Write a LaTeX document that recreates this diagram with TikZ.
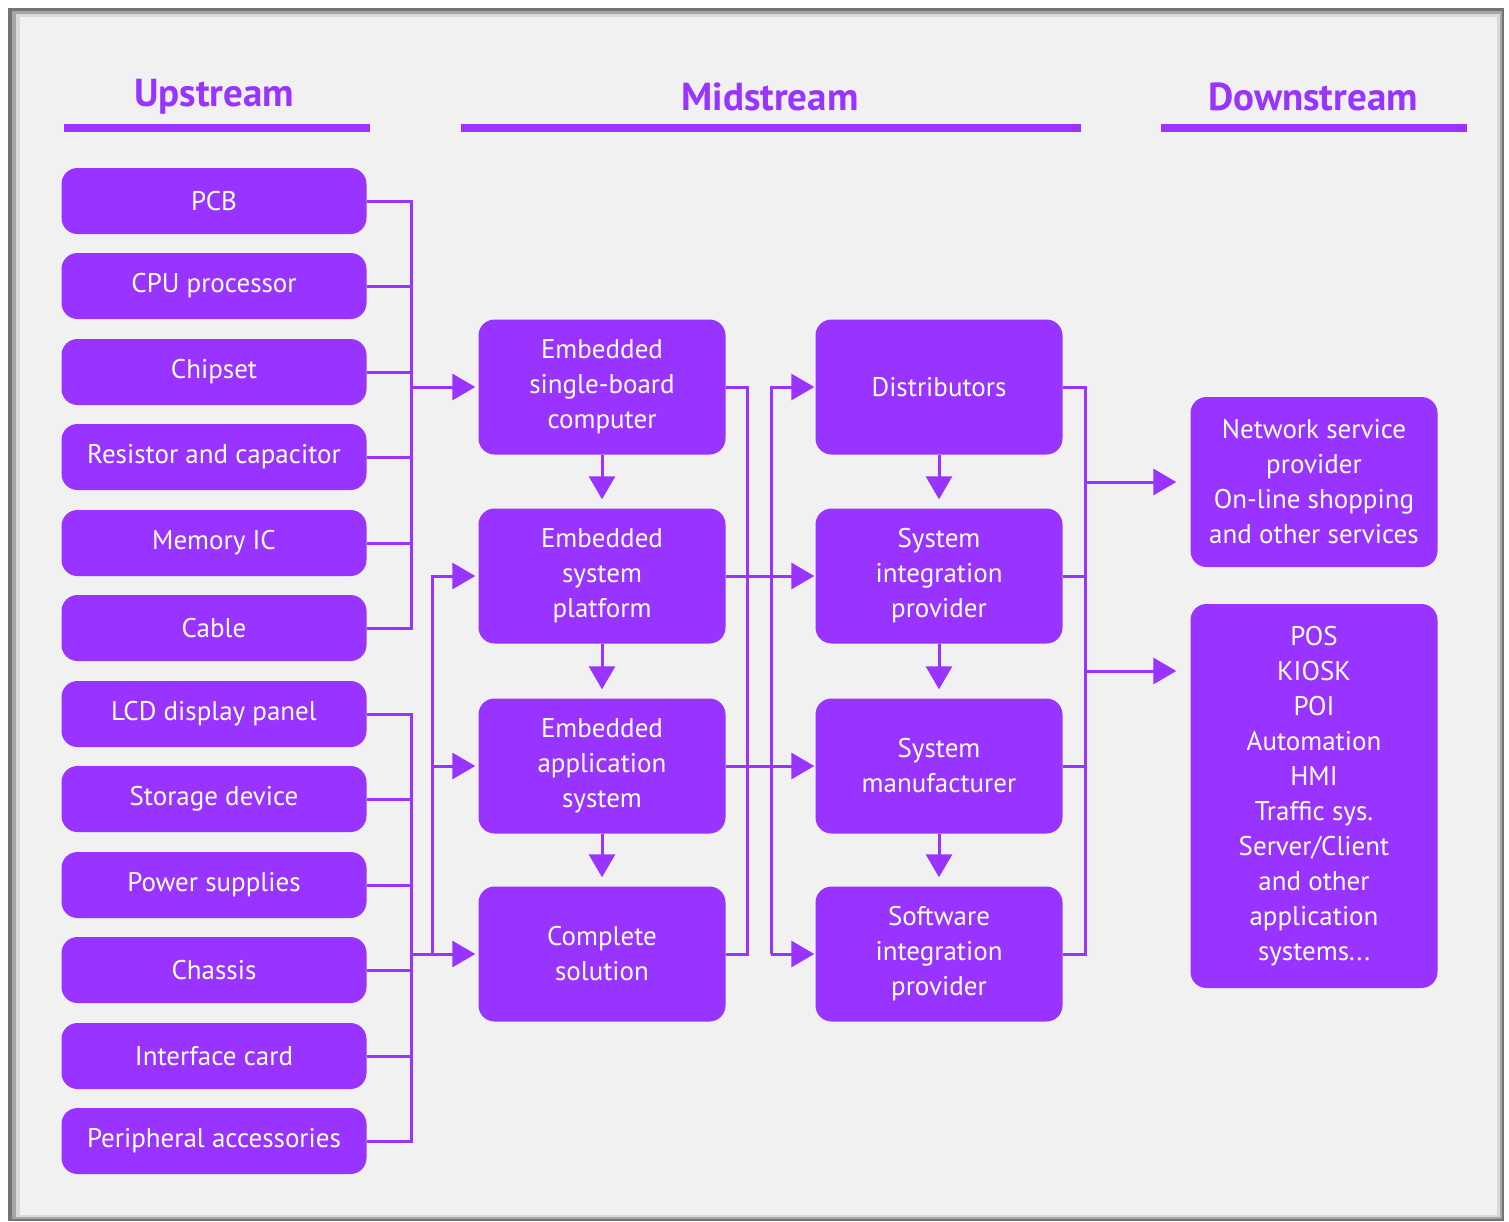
\documentclass[tikz,border=0pt]{standalone}
\usepackage{fontspec}
\setmainfont{PT Sans}
\usetikzlibrary{arrows.meta}
\definecolor{violet}{HTML}{9933FF}
\definecolor{panel}{HTML}{F1F1F1}

\tikzset{
	box/.style={fill=violet, rounded corners=16pt, text=white, align=center, inner sep=0pt,
		font=\fontsize{27}{35}\selectfont},
	upbox/.style={box, minimum width=305pt, minimum height=66pt},
	midbox/.style={box, minimum width=247pt, minimum height=135pt},
	outbox/.style={box, minimum width=247pt},
	head/.style={text=violet, font=\fontsize{39}{44}\selectfont\bfseries},
	rule/.style={violet, line width=8pt},
	link/.style={violet, line width=3pt},
	flow/.style={link, -{Triangle[width=26pt,length=23pt]}},
}

\begin{document}
\begin{tikzpicture}[x=1pt, y=-1pt]
		\useasboundingbox (0,0) rectangle (1509,1221);
		\fill[white] (0,0) rectangle (1509,1221);
		\fill[black!55] (8,8) rectangle (1504,1221);
		\fill[black!35] (12,11) rectangle (1502,1219);
		\fill[black!15] (16,14) rectangle (1500,1217);
		\fill[panel] (20,17) rectangle (1497,1215);

		\node (up)[head] at (214,97) {Upstream};
		\node (mid)[head] at (770,97) {Midstream};
		\node (down)[head] at (1313,97) {Downstream};
		\draw [rule](64,128)--(370,128);
		\draw [rule](461,128)--(1081,128);
		\draw [rule](1161,128)--(1467,128);

		\node (pcb)[upbox] at (214,201) {PCB};
		\node (cpu)[upbox] at (214,286) {CPU processor};
		\node (chip)[upbox] at (214,372) {Chipset};
		\node (res)[upbox] at (214,457) {Resistor and capacitor};
		\node (mem)[upbox] at (214,543) {Memory IC};
		\node (cable)[upbox] at (214,628) {Cable};
		\node (lcd)[upbox] at (214,714) {LCD display panel};
		\node (store)[upbox] at (214,799) {Storage device};
		\node (power)[upbox] at (214,885) {Power supplies};
		\node (chassis)[upbox] at (214,970) {Chassis};
		\node (iface)[upbox] at (214,1056) {Interface card};
		\node (periph)[upbox] at (214,1141) {Peripheral accessories};

		\node (esbc)[midbox] at (602,387) {Embedded\\single-board\\computer};
		\node (esp)[midbox] at (602,576) {Embedded\\system\\platform};
		\node (eas)[midbox] at (602,766) {Embedded\\application\\system};
		\node (cs)[midbox] at (602,954) {Complete\\solution};

		\node (dist)[midbox] at (939,387) {Distributors};
		\node (sip)[midbox] at (939,576) {System\\integration\\provider};
		\node (sm)[midbox] at (939,766) {System\\manufacturer};
		\node (sw)[midbox] at (939,954) {Software\\integration\\provider};

		\node (nsp)[outbox, minimum height=170pt] at (1314,482) {Network service\\provider\\On-line shopping\\and other services};
		\node (pos)[outbox, minimum height=384pt] at (1314,796) {POS\\KIOSK\\POI\\Automation\\HMI\\Traffic sys.\\Server/Client\\and other\\application\\systems...};

		% upstream buses
		\coordinate (busA) at (411,387);
		\coordinate (busB) at (411,954);
		\coordinate (busC) at (432,954);
		\draw [link](pcb.east) -| (busA);
		\draw [link](cpu.east) -| (busA);
		\draw [link](chip.east) -| (busA);
		\draw [link](res.east) -| (busA);
		\draw [link](mem.east) -| (busA);
		\draw [link](cable.east) -| (busA);
		\draw [link](lcd.east) -| (busB);
		\draw [link](store.east) -| (busB);
		\draw [link](power.east) -| (busB);
		\draw [link](chassis.east) -| (busB);
		\draw [link](iface.east) -| (busB);
		\draw [link](periph.east) -| (busB);
		\draw [flow, shorten >=3pt](busA)--(esbc);
		\draw [flow, shorten >=3pt](busB)--(cs);
		\draw [flow, shorten >=3pt](busC) |- (esp);
		\draw [flow, shorten >=3pt](busC) |- (eas);

		% midstream
		\draw [flow, shorten >=9pt](esbc)--(esp);
		\draw [flow, shorten >=9pt](esp)--(eas);
		\draw [flow, shorten >=9pt](eas)--(cs);
		\coordinate (busD) at (747,954);
		\coordinate (busE) at (771,954);
		\draw [link](esbc.east) -| (busD) -- (cs.east);
		\draw [flow, shorten >=1pt](busE) |- (dist);
		\draw [flow, shorten >=1pt](busE)--(sw);
		\draw [flow, shorten >=1pt](esp)--(sip);
		\draw [flow, shorten >=1pt](eas)--(sm);
		\draw [flow, shorten >=9pt](dist)--(sip);
		\draw [flow, shorten >=9pt](sip)--(sm);
		\draw [flow, shorten >=9pt](sm)--(sw);

		% downstream
		\coordinate (busF) at (1085,954);
		\draw [link](dist.east) -| (busF) -- (sw.east);
		\draw [link](sip.east) -- (sip.east -| busF);
		\draw [link](sm.east) -- (sm.east -| busF);
		\draw [flow, shorten >=14pt](busF |- nsp)--(nsp);
		\draw [flow, shorten >=14pt](1085,671)--(pos.west |- 0,671);
	\end{tikzpicture}
\end{document}
